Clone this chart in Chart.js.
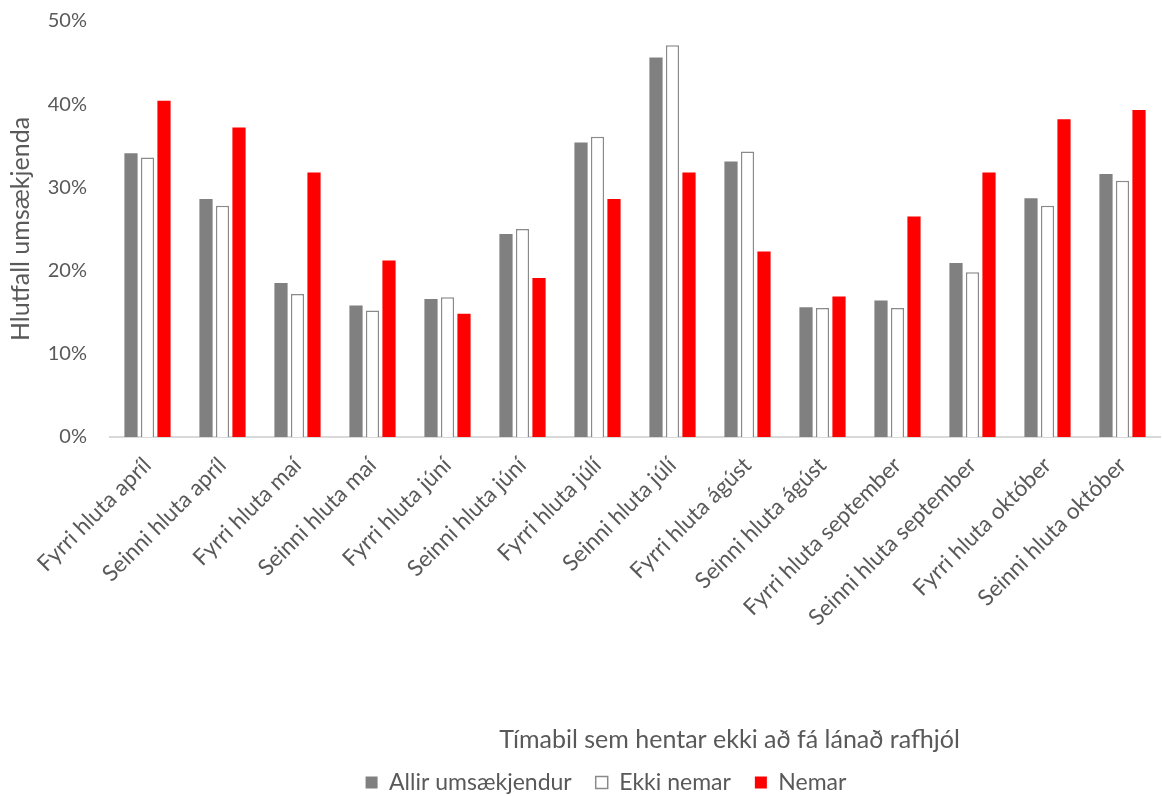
<!DOCTYPE html>
<html>
<head>
<meta charset="utf-8">
<title>Tímabil sem hentar ekki að fá lánað rafhjól</title>
<script src="https://cdn.jsdelivr.net/npm/chart.js@4"></script>
<style>
  html, body { margin: 0; padding: 0; background: #ffffff; }
  #wrap { width: 1162px; height: 796px; }
</style>
</head>
<body>
<div id="wrap"><canvas id="chart"></canvas></div>
<script>
  "use strict";

  const categories = [
    "Fyrri hluta apríl", "Seinni hluta apríl", "Fyrri hluta maí", "Seinni hluta maí",
    "Fyrri hluta júní", "Seinni hluta júní", "Fyrri hluta júlí", "Seinni hluta júlí",
    "Fyrri hluta ágúst", "Seinni hluta ágúst", "Fyrri hluta september",
    "Seinni hluta september", "Fyrri hluta október", "Seinni hluta október"
  ];

  // percent of applicants
  const allirValues = [34.1, 28.6, 18.5, 15.8, 16.6, 24.4, 35.4, 45.6, 33.1, 15.6, 16.4, 20.9, 28.7, 31.6];
  const ekkiNemarValues = [33.6, 27.8, 17.2, 15.2, 16.8, 25.0, 36.1, 47.1, 34.3, 15.5, 15.5, 19.8, 27.8, 30.8];
  const nemarValues = [40.4, 37.2, 31.8, 21.2, 14.8, 19.1, 28.6, 31.8, 22.3, 16.9, 26.5, 31.8, 38.2, 39.3];

  const seriesNames = ["Allir umsækjendur", "Ekki nemar", "Nemar"];
  const yTicks = [0, 10, 20, 30, 40, 50];

  const Y_TITLE = "Hlutfall umsækjenda";
  const X_TITLE = "Tímabil sem hentar ekki að fá lánað rafhjól";
  const TEXT_COLOR = "#595959";
  const FONT = "Lato";

  /**
   * Draws the x axis title a bit right of centre, where the original has it,
   * and nudges the legend right to match.
   */
  const offsetPlugin = {
    id: "offsets",
    afterLayout(chart) {
      chart.legend.left += 26;
      chart.legend.right += 26;
    },
    afterDraw(chart) {
      let ctx = chart.ctx;
      let area = chart.chartArea;
      let xScale = chart.scales.x;
      ctx.save();
      ctx.font = "25px " + FONT;
      ctx.fillStyle = TEXT_COLOR;
      ctx.textAlign = "center";
      ctx.textBaseline = "middle";
      ctx.fillText(X_TITLE, area.left + (area.right - area.left) * 0.59, xScale.bottom - 7);
      ctx.restore();
    }
  };

  function makeDataset(label, values, fill, border, width) {
    return {
      label: label,
      data: values,
      backgroundColor: fill,
      borderColor: border,
      borderWidth: width,
      categoryPercentage: 0.66,
      barPercentage: 0.8
    };
  }

  function init() {
    Chart.defaults.font.family = FONT;
    Chart.defaults.color = TEXT_COLOR;

    let config = {
      type: "bar",
      data: {
        labels: categories,
        datasets: [
          makeDataset(seriesNames[0], allirValues, "#808080", "#808080", 0),
          makeDataset(seriesNames[1], ekkiNemarValues, "#ffffff", "#8a8a8a", 1.5),
          makeDataset(seriesNames[2], nemarValues, "#ff0000", "#ff0000", 0)
        ]
      },
      options: {
        responsive: true,
        maintainAspectRatio: false,
        animation: false,
        layout: {
          padding: { top: 0, right: 2, left: 0, bottom: -8 }
        },
        plugins: {
          legend: {
            position: "bottom",
            labels: {
              boxWidth: 12,
              boxHeight: 12,
              padding: 24,
              color: TEXT_COLOR,
              font: { size: 23 }
            }
          },
          tooltip: { enabled: false }
        },
        scales: {
          x: {
            grid: { display: false, drawTicks: false },
            border: { display: true, color: "#d9d9d9", width: 2 },
            ticks: {
              autoSkip: false,
              maxRotation: 45,
              minRotation: 45,
              padding: 15,
              color: TEXT_COLOR,
              font: { size: 22.5 }
            },
            afterFit: (scale) => {
              scale.height = 310;
            }
          },
          y: {
            min: 0,
            max: 50,
            grid: { display: false, drawTicks: false },
            border: { display: false },
            afterBuildTicks: (scale) => {
              scale.ticks = yTicks.map(v => ({ value: v }));
            },
            ticks: {
              padding: 23,
              color: TEXT_COLOR,
              font: { size: 20 },
              callback: (v) => v + "%"
            },
            title: {
              display: true,
              text: Y_TITLE,
              color: TEXT_COLOR,
              font: { size: 25 },
              padding: { top: 6, bottom: 0 }
            },
            afterFit: (scale) => {
              scale.width = 110;
              scale.paddingTop = 21;
              scale.paddingBottom = 12;
            }
          }
        }
      },
      plugins: [offsetPlugin]
    };

    new Chart(document.getElementById("chart"), config);
  }

  init();
</script>
</body>
</html>
